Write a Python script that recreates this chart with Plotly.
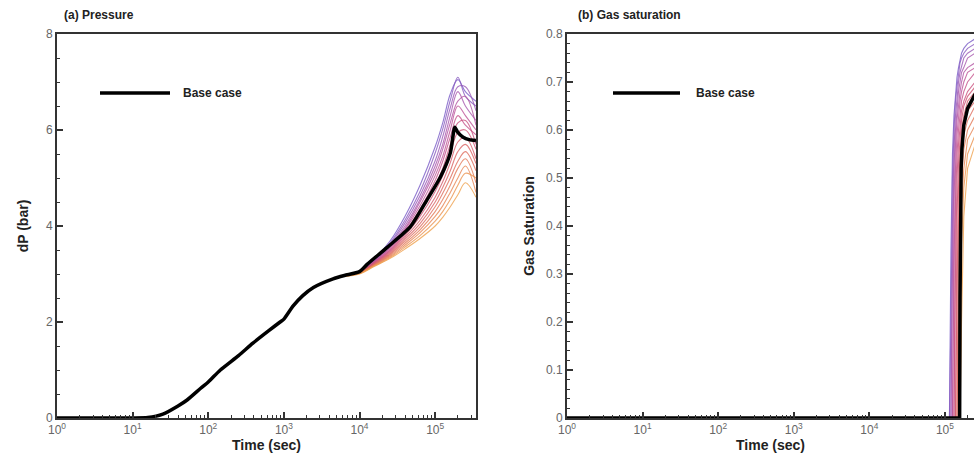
import plotly.graph_objects as go

# ---------------- data ----------------
# (a) Pressure, base case: log10(time [s]) and dP [bar]
P_BASE_LOGT = [0.0, 1.0, 1.2, 1.4, 1.6, 1.72, 1.9, 2.0, 2.16, 2.4, 2.59, 2.8, 2.95, 3.0,
               3.12, 3.25, 3.39, 3.65, 3.8, 4.0, 4.1, 4.37, 4.67, 4.89, 5.07, 5.2, 5.26,
               5.3, 5.37, 5.45, 5.54]
P_BASE_DP = [0.0, 0.0, 0.01, 0.08, 0.25, 0.375, 0.62, 0.75, 1.0, 1.3, 1.56, 1.82, 2.0, 2.06,
             2.33, 2.55, 2.72, 2.9, 2.97, 3.05, 3.2, 3.56, 3.98, 4.54, 5.02, 5.52, 6.06,
             5.95, 5.85, 5.8, 5.78]

# (a) Pressure, ensemble realisations (shared log10 time grid)
P_ENS_LOGT = [3.8, 4.0, 4.2, 4.4, 4.6, 4.8, 5.0, 5.1, 5.2, 5.3, 5.4, 5.54]
P_ENS_DP = [
    [2.98, 3.06, 3.32, 3.68, 4.2, 4.85, 5.65, 6.15, 6.75, 7.05, 6.8, 6.6],
    [2.98, 3.06, 3.31, 3.64, 4.12, 4.72, 5.52, 6.02, 6.62, 7.1, 6.7, 6.5],
    [2.98, 3.05, 3.29, 3.61, 4.06, 4.63, 5.36, 5.86, 6.46, 6.9, 6.9, 6.4],
    [2.98, 3.05, 3.28, 3.58, 4.0, 4.55, 5.25, 5.7, 6.3, 6.8, 6.5, 6.2],
    [2.97, 3.04, 3.27, 3.55, 3.95, 4.5, 5.15, 5.6, 6.15, 6.6, 6.7, 6.1],
    [2.97, 3.04, 3.26, 3.53, 3.92, 4.42, 5.05, 5.45, 6.0, 6.5, 6.3, 6.0],
    [2.97, 3.04, 3.25, 3.5, 3.88, 4.35, 4.95, 5.35, 5.85, 6.3, 6.1, 5.9],
    [2.97, 3.03, 3.24, 3.48, 3.84, 4.28, 4.85, 5.2, 5.7, 6.15, 6.2, 5.7],
    [2.97, 3.03, 3.23, 3.46, 3.8, 4.2, 4.72, 5.05, 5.5, 5.95, 6.0, 5.6],
    [2.97, 3.03, 3.22, 3.44, 3.76, 4.12, 4.6, 4.92, 5.32, 5.75, 5.85, 5.4],
    [2.96, 3.02, 3.21, 3.42, 3.72, 4.05, 4.5, 4.8, 5.15, 5.55, 5.7, 5.3],
    [2.96, 3.02, 3.2, 3.4, 3.68, 3.98, 4.4, 4.68, 5.0, 5.35, 5.55, 5.15],
    [2.96, 3.02, 3.19, 3.38, 3.64, 3.92, 4.3, 4.55, 4.85, 5.2, 5.4, 4.9],
    [2.96, 3.01, 3.18, 3.36, 3.6, 3.86, 4.2, 4.42, 4.7, 5.0, 5.25, 4.7],
    [2.95, 3.01, 3.17, 3.34, 3.56, 3.8, 4.1, 4.3, 4.55, 4.85, 5.1, 5.0],
    [2.95, 3.0, 3.16, 3.32, 3.52, 3.74, 4.0, 4.18, 4.4, 4.65, 4.9, 4.6],
]

# (b) Gas saturation, base case
G_BASE_LOGT = [0.0, 5.195, 5.2, 5.205, 5.215, 5.225, 5.25, 5.3, 5.36, 5.4]
G_BASE_SG = [0.0, 0.0, 0.25, 0.45, 0.52, 0.56, 0.61, 0.645, 0.665, 0.675]

# (b) Gas saturation, ensemble realisations (shared log10 time grid)
G_ENS_LOGT = [0.0, 5.06, 5.08, 5.1, 5.12, 5.14, 5.16, 5.18, 5.2, 5.22, 5.25, 5.3, 5.4]
G_ENS_SG = [
    [0, 0, 0.35, 0.55, 0.63, 0.68, 0.71, 0.73, 0.75, 0.76, 0.77, 0.78, 0.79],
    [0, 0, 0.2, 0.5, 0.6, 0.66, 0.69, 0.72, 0.74, 0.75, 0.76, 0.77, 0.78],
    [0, 0, 0, 0.4, 0.56, 0.63, 0.67, 0.7, 0.72, 0.73, 0.75, 0.76, 0.77],
    [0, 0, 0, 0.3, 0.52, 0.6, 0.65, 0.68, 0.7, 0.72, 0.73, 0.75, 0.76],
    [0, 0, 0, 0, 0.45, 0.57, 0.62, 0.66, 0.68, 0.7, 0.72, 0.73, 0.74],
    [0, 0, 0, 0, 0.3, 0.52, 0.59, 0.63, 0.66, 0.68, 0.7, 0.72, 0.73],
    [0, 0, 0, 0, 0, 0.45, 0.55, 0.6, 0.63, 0.66, 0.68, 0.7, 0.72],
    [0, 0, 0, 0, 0, 0.3, 0.5, 0.57, 0.61, 0.64, 0.66, 0.68, 0.7],
    [0, 0, 0, 0, 0, 0, 0.42, 0.53, 0.58, 0.62, 0.65, 0.67, 0.69],
    [0, 0, 0, 0, 0, 0, 0.25, 0.48, 0.55, 0.6, 0.63, 0.66, 0.68],
    [0, 0, 0, 0, 0, 0, 0, 0.4, 0.52, 0.57, 0.61, 0.64, 0.66],
    [0, 0, 0, 0, 0, 0, 0, 0.2, 0.46, 0.54, 0.59, 0.62, 0.65],
    [0, 0, 0, 0, 0, 0, 0, 0, 0.38, 0.5, 0.56, 0.6, 0.63],
    [0, 0, 0, 0, 0, 0, 0, 0, 0.2, 0.44, 0.52, 0.58, 0.61],
    [0, 0, 0, 0, 0, 0, 0, 0, 0, 0.36, 0.48, 0.55, 0.59],
    [0, 0, 0, 0, 0, 0, 0, 0, 0, 0.2, 0.42, 0.52, 0.57],
]

ENS_COLORS = ["#7a5cc8", "#8a5cc0", "#9a5ab8", "#a858ae", "#b456a4", "#be5498",
              "#c6528c", "#cc5280", "#d05676", "#d65c6c", "#dc6464", "#e06e5e",
              "#e47a58", "#e88654", "#ec9450", "#f0a24e"]

X_TICK_EXP = [0, 1, 2, 3, 4, 5]
P_YTICKS = [0, 2, 4, 6, 8]
G_YTICKS = [0, 0.1, 0.2, 0.3, 0.4, 0.5, 0.6, 0.7, 0.8]
G_YTICK_TEXT = ["0", "0.1", "0.2", "0.3", "0.4", "0.5", "0.6", "0.7", "0.8"]

# ---------------- figure ----------------
FONT = "Liberation Sans, Arial, sans-serif"
AX = "#333333"
TICKFONT = dict(family=FONT, size=12, color="#666666")
W, H = 974, 459
ML, MR, MT, MB = 57, 0, 34, 41
PW, PH = W - ML - MR, H - MT - MB


def px(x):
    return (x - ML) / PW


def py(y):
    return (H - MB - y) / PH


def T(logs):
    return [10 ** v for v in logs]


fig = go.Figure()

for vals, col in zip(P_ENS_DP, ENS_COLORS):
    fig.add_trace(go.Scatter(x=T(P_ENS_LOGT), y=vals, mode="lines",
                             line=dict(color=col, width=1.1, shape="spline"), opacity=0.8,
                             xaxis="x", yaxis="y", showlegend=False, hoverinfo="skip"))
fig.add_trace(go.Scatter(x=T(P_BASE_LOGT), y=P_BASE_DP, mode="lines", name="Base case",
                         line=dict(color="black", width=3.5, shape="spline", smoothing=0.6),
                         xaxis="x", yaxis="y", showlegend=False))

for vals, col in zip(G_ENS_SG, ENS_COLORS):
    fig.add_trace(go.Scatter(x=T(G_ENS_LOGT), y=vals, mode="lines",
                             line=dict(color=col, width=1.1), opacity=0.8,
                             xaxis="x2", yaxis="y2", showlegend=False, hoverinfo="skip"))
fig.add_trace(go.Scatter(x=T(G_BASE_LOGT), y=G_BASE_SG, mode="lines", name="Base case",
                         line=dict(color="black", width=3.5), xaxis="x2", yaxis="y2",
                         showlegend=False))

minor_vals = [k * 10 ** d for d in range(0, 6) for k in range(2, 10)]
xt_vals = [10 ** e for e in X_TICK_EXP]
xt_text = ["10<sup>%d</sup>" % e for e in X_TICK_EXP]


def xaxis(domain, rng, anchor):
    return dict(type="log", domain=domain, range=rng, anchor=anchor, automargin=False,
                showline=True, linecolor=AX, linewidth=2, mirror=True,
                ticks="inside", ticklen=6, tickwidth=1.5, tickcolor=AX,
                tickmode="array", tickvals=xt_vals, ticktext=xt_text, tickfont=TICKFONT,
                minor=dict(tickvals=minor_vals, ticks="inside", ticklen=3,
                           tickwidth=1, tickcolor=AX, showgrid=False),
                showgrid=False, zeroline=False,
                title=dict(text="<b>Time (sec)</b>", standoff=0,
                           font=dict(family=FONT, size=14, color="#222222")))


fig.update_layout(
    width=W, height=H, margin=dict(l=ML, r=MR, t=MT, b=MB, autoexpand=False),
    paper_bgcolor="white", plot_bgcolor="white", showlegend=False,
    font=dict(family=FONT),
    xaxis=xaxis([0, px(476)], [0, 5.54], "y"),
    xaxis2=xaxis([px(567), 1.0], [0, 5.385], "y2"),
    yaxis=dict(domain=[0, 1], range=[0, 8], anchor="x", automargin=False,
               showline=True, linecolor=AX, linewidth=2, mirror=True,
               ticks="inside", ticklen=6, tickwidth=1.5, tickcolor=AX,
               tickmode="array", tickvals=P_YTICKS, tickfont=TICKFONT,
               minor=dict(dtick=0.5, ticks="inside", ticklen=3, tickwidth=1,
                          tickcolor=AX, showgrid=False),
               showgrid=False, zeroline=False,
               title=dict(text="<b>dP (bar)</b>", standoff=14,
                          font=dict(family=FONT, size=14, color="#222222"))),
    yaxis2=dict(domain=[0, 1], range=[0, 0.8], anchor="x2", automargin=False,
                showline=True, linecolor=AX, linewidth=2, mirror=False,
                ticks="inside", ticklen=6, tickwidth=1.5, tickcolor=AX,
                tickmode="array", tickvals=G_YTICKS, ticktext=G_YTICK_TEXT,
                tickfont=TICKFONT,
                minor=dict(dtick=0.02, ticks="inside", ticklen=3, tickwidth=1,
                           tickcolor=AX, showgrid=False),
                showgrid=False, zeroline=False,
                title=dict(text="<b>Gas Saturation</b>", standoff=8,
                           font=dict(family=FONT, size=14, color="#222222"))),
)

# panel titles
fig.add_annotation(text="<b>(a) Pressure</b>", xref="paper", yref="paper",
                   x=px(62), y=py(15), xanchor="left", yanchor="middle",
                   showarrow=False, font=dict(family=FONT, size=12, color="#222222"))
fig.add_annotation(text="<b>(b) Gas saturation</b>", xref="paper", yref="paper",
                   x=px(576), y=py(15), xanchor="left", yanchor="middle",
                   showarrow=False, font=dict(family=FONT, size=12, color="#222222"))

# legend keys
for x0, x1, xt in [(100, 170, 181), (613, 680, 694)]:
    fig.add_shape(type="line", xref="paper", yref="paper", x0=px(x0), x1=px(x1),
                  y0=py(93), y1=py(93), line=dict(color="black", width=3.5))
    fig.add_annotation(text="<b>Base case</b>", xref="paper", yref="paper",
                       x=px(xt), y=py(93), xanchor="left", yanchor="middle",
                       showarrow=False, font=dict(family=FONT, size=12, color="#222222"))

fig.write_html("out.html")
